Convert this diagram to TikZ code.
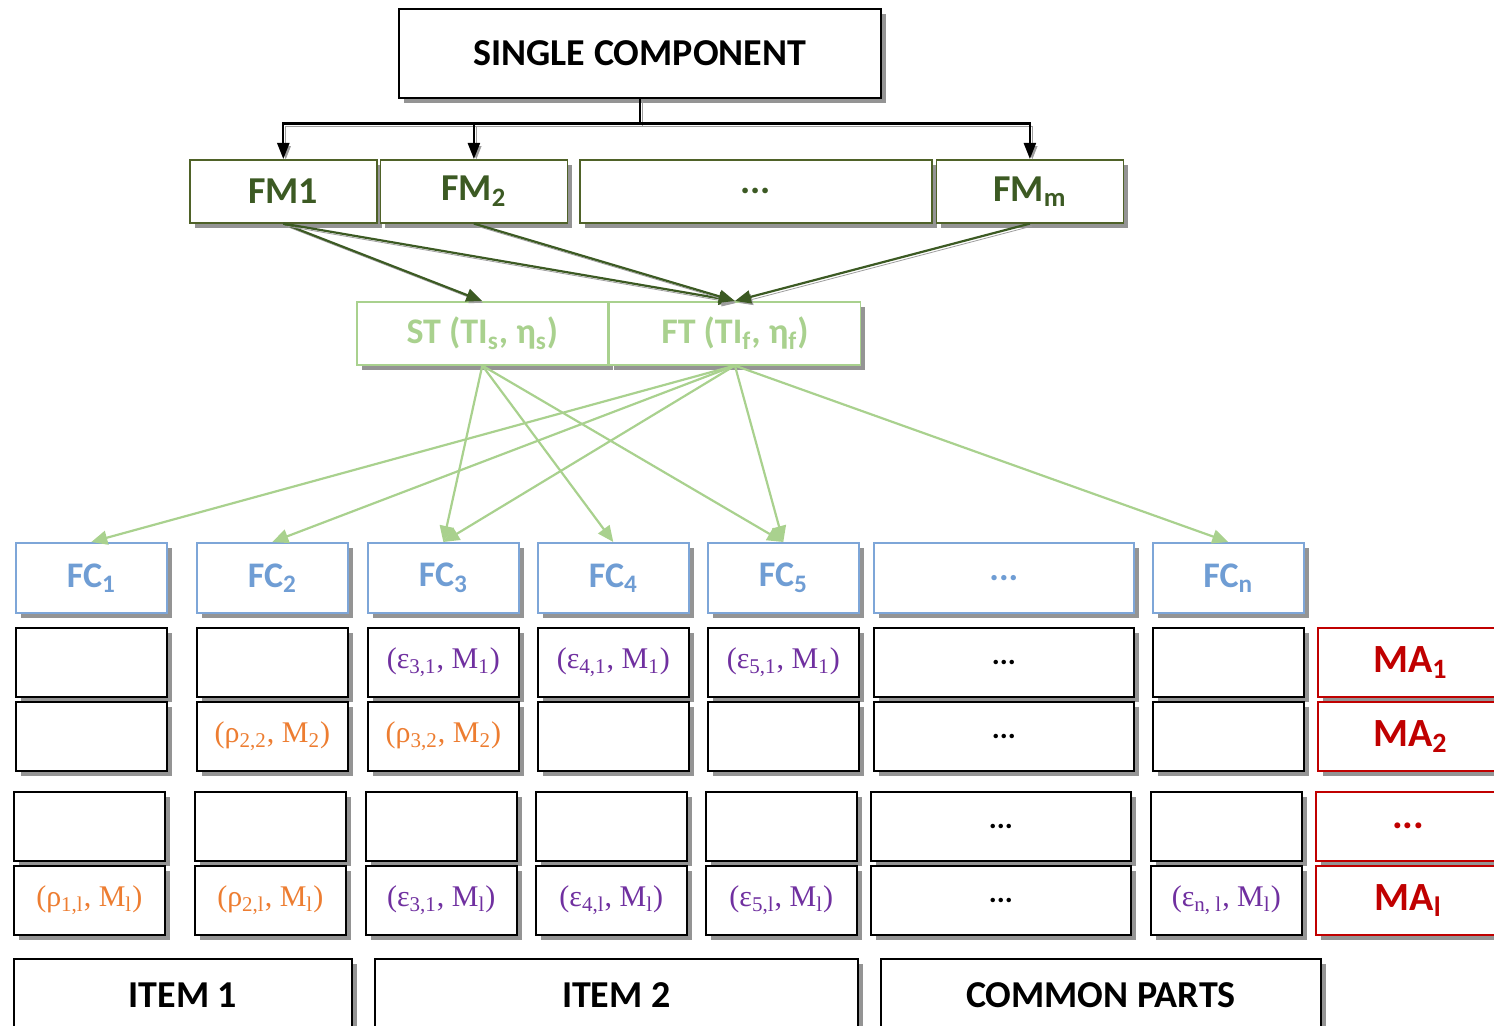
\documentclass[tikz,border=0pt]{standalone}
\usepackage{fontspec}
\setmainfont{Carlito}
\newfontfamily\cellfont{Liberation Serif}
\usetikzlibrary{shapes, arrows.meta, positioning, shadows}
\definecolor{fmgreen}{RGB}{79,98,40}
\definecolor{fmtext}{RGB}{60,90,35}
\definecolor{tgreen}{RGB}{169,209,142}
\definecolor{fcblue}{RGB}{126,166,216}
\definecolor{fctext}{RGB}{111,157,212}
\definecolor{mared}{RGB}{192,0,0}
\definecolor{epurple}{RGB}{112,48,160}
\definecolor{rorange}{RGB}{237,125,49}
\tikzstyle{block}=[draw,fill=white,rectangle,anchor=north west,inner sep=0pt,line width=0.8pt,
  drop shadow={shadow xshift=2.5pt,shadow yshift=-2.5pt,fill=black!42,opacity=1}]
\tikzstyle{title}=[block,font=\bfseries\fontsize{19}{22}\selectfont]
\tikzstyle{fmblock}=[block,draw=fmgreen,text=fmtext,minimum width=93.5pt,minimum height=31.5pt,font=\bfseries\fontsize{19}{22}\selectfont]
\tikzstyle{tblock}=[block,draw=tgreen,text=tgreen,minimum width=125.5pt,minimum height=31.5pt,font=\bfseries\fontsize{18}{21}\selectfont]
\tikzstyle{fcblock}=[block,draw=fcblue,text=fctext,minimum height=35pt,font=\bfseries\fontsize{18}{21}\selectfont]
\tikzstyle{cell}=[block,minimum height=34.5pt,font=\cellfont\fontsize{15}{18}\selectfont]
\tikzstyle{mablock}=[block,draw=mared,text=mared,minimum width=92.5pt,minimum height=34.5pt,font=\bfseries\fontsize{20}{23}\selectfont]
\tikzstyle{shadowed}=[preaction={draw=black!38,transform canvas={shift={(1.2pt,-1.2pt)}}}]
\tikzstyle{blackarrow}=[shadowed,line width=1.1pt,-{Triangle[length=8pt,width=6pt]}]
\tikzstyle{fmarrow}=[shadowed,draw=fmtext,line width=1.1pt,-{Triangle[length=8pt,width=6.5pt]}]
\tikzstyle{tarrow}=[draw=tgreen,line width=1.1pt,-{Triangle[length=8pt,width=7pt]}]
\newcommand{\ecell}[2]{\textcolor{epurple}{(ε\textsubscript{#1}, M\textsubscript{#2})}}
\newcommand{\rcell}[2]{\textcolor{rorange}{(ρ\textsubscript{#1}, M\textsubscript{#2})}}
\newcommand{\threedots}{...}
\newcommand{\celldots}{{\normalfont\bfseries\threedots}}

\begin{document}
\begin{tikzpicture}[x=0.5pt,y=-0.5pt]
  \clip (0,0) rectangle (1494,1026);
  \node[title,minimum width=241pt,minimum height=44.5pt] (sc) at (398,8) {SINGLE COMPONENT};
  % failure modes
  \node[fmblock] (fm1) at (189,159) {FM1};
  \node[fmblock,right=1pt of fm1] (fm2) {FM\textsubscript{2}};
  \node[fmblock,minimum width=176pt] (fmdots) at (579,159) {\threedots};
  \node[fmblock,right=1.5pt of fmdots] (fmm) {FM\textsubscript{m}};
  % tests
  \node[tblock] (st) at (356,301) {ST (TI\textsubscript{s}, η\textsubscript{s})};
  \node[tblock,right=0pt of st] (ft) {FT (TI\textsubscript{f}, η\textsubscript{f})};
  % failure causes
  \foreach \c/\x/\w/\t in {1/15/75.5/FC\textsubscript{1}, 2/196/75.5/FC\textsubscript{2},
      3/367/75.5/FC\textsubscript{3}, 4/537/75.5/FC\textsubscript{4}, 5/707/75.5/FC\textsubscript{5},
      6/873/130/\threedots, n/1152/75.5/FC\textsubscript{n}}
    \node[fcblock,minimum width=\w pt] (fc\c) at (\x,542) {\t};
  % cells, first two modes
  \foreach \c/\x/\w/\ta/\tb in {1/15/75.5/{}/{}, 2/196/75.5/{}/{\rcell{2,2}{2}},
      3/367/75.5/{\ecell{3,1}{1}}/{\rcell{3,2}{2}}, 4/537/75.5/{\ecell{4,1}{1}}/{},
      5/707/75.5/{\ecell{5,1}{1}}/{}, 6/873/130/{\celldots}/{\celldots}, n/1152/75.5/{}/{}}
  {
    \node[cell,minimum width=\w pt] (a\c) at (\x,627) {\ta};
    \node[cell,minimum width=\w pt] (b\c) at (\x,701) {\tb};
  }
  % cells, last modes
  \foreach \c/\x/\w/\ta/\tb in {1/13/75.5/{}/{\rcell{1,l}{l}}, 2/194/75.5/{}/{\rcell{2,l}{l}},
      3/365/75.5/{}/{\ecell{3,1}{l}}, 4/535/75.5/{}/{\ecell{4,l}{l}},
      5/705/75.5/{}/{\ecell{5,l}{l}}, 6/870/130/{\celldots}/{\celldots}, n/1150/75.5/{}/{\ecell{n, l}{l}}}
  {
    \node[cell,minimum width=\w pt] (c\c) at (\x,791) {\ta};
    \node[cell,minimum width=\w pt] (d\c) at (\x,865) {\tb};
  }
  % maintenance actions
  \node[mablock] (ma1) at (1317,627) {MA\textsubscript{1}};
  \node[mablock] (ma2) at (1317,701) {MA\textsubscript{2}};
  \node[mablock] (madots) at (1315,791) {\threedots};
  \node[mablock] (mal) at (1315,865) {MA\textsubscript{l}};
  % items
  \node[title,minimum width=169pt,minimum height=36pt] (item1) at (13,958) {ITEM 1};
  \node[title,minimum width=241.5pt,minimum height=36pt] (item2) at (374,958) {ITEM 2};
  \node[title,minimum width=220pt,minimum height=36pt] (common) at (880,958) {COMMON PARTS};

  \draw[blackarrow] (sc.south) -- ++(0,25) -| (fm1.north);
  \draw[blackarrow] (sc.south) -- ++(0,25) -| (fm2.north);
  \draw[blackarrow] (sc.south) -- ++(0,25) -| (fmm.north);
  \draw[fmarrow] (fm1.south) -- (st.north);
  \draw[fmarrow] (fm1.south) -- (ft.north);
  \draw[fmarrow] (fm2.south) -- (ft.north);
  \draw[fmarrow] (fmm.south) -- (ft.north);
  \foreach \c in {3,4,5}
    \draw[tarrow] (st.south) -- (fc\c.north);
  \foreach \c in {1,2,3,5,n}
    \draw[tarrow] (ft.south) -- (fc\c.north);
\end{tikzpicture}
\end{document}
